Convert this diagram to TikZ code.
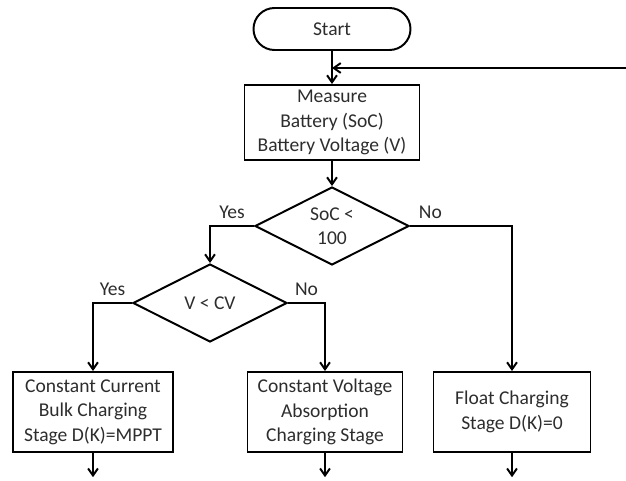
\documentclass[tikz,border=0pt]{standalone}
\usepackage{fontspec}
\setmainfont{Carlito}
\usepackage{tikz}
\usetikzlibrary{
  arrows.meta,
  shapes.geometric
}
\definecolor{flowtext}{RGB}{45,45,45}
\tikzset{
  startbox/.style={draw, rounded corners=0.525cm, line width=1.4pt,
    minimum width=3.925cm, minimum height=1.05cm,
    align=center, text=flowtext},
  procbox/.style={draw, line width=1.4pt,
    minimum width=3.9cm, minimum height=2cm,
    align=center, text=flowtext, inner sep=2pt},
  decbox/.style={draw, diamond, aspect=2, inner sep=0pt, line width=1.4pt,
    minimum width=3.85cm, minimum height=1.95cm,
    align=center, text=flowtext},
  arr/.style={-{Straight Barb[length=5pt, width=7pt]}, line width=1.4pt},
  lbl/.style={text=flowtext, inner sep=4.5pt},
}

\begin{document}
\begin{tikzpicture}[font=\fontsize{13.9}{17.4}\selectfont]
  \useasboundingbox (0,0) rectangle (15.65,12);

  % Start and measurement
  \node[startbox] (start) at (8.3, 11.275) {Start};
  \node[procbox, minimum width=4.375cm, minimum height=1.875cm]
    (measure) at (8.3, 8.9375) {Measure\\Battery (SoC)\\Battery Voltage (V)};

  % Decisions
  \node[decbox] (soc) at (8.3, 6.35) {SoC <\\100};
  \node[decbox] (vcv) at (5.25, 4.425) {V < CV};

  % Charging stages
  \node[procbox, minimum width=4cm] (bulk) at (2.325, 1.7)
    {Constant Current\\Bulk Charging\\Stage D(K)=MPPT};
  \node[procbox, minimum width=3.875cm] (absorb) at (8.125, 1.7)
    {Constant Voltage\\Absorption\\Charging Stage};
  \node[procbox, minimum width=3.925cm] (float) at (12.8, 1.7)
    {Float Charging\\Stage D(K)=0};

  % Loose ends
  \coordinate (loopin) at (15.65, 10.3);
  \coordinate (bottomline) at (0, 0.07);

  % Connectors
  \draw[arr] (start) -- (measure);
  \draw[arr] (loopin) -- (loopin -| start);
  \draw[arr] (measure) -- (soc);
  \draw[arr] (soc.west) -| node[lbl, pos=0.25, above] (yes1) {Yes} (vcv.north);
  \draw[arr] (soc.east) -| node[lbl, pos=0.1, above] (no1) {No} (float.north);
  \draw[arr] (vcv.west) -| node[lbl, pos=0.25, above] (yes2) {Yes} (bulk.north);
  \draw[arr] (vcv.east) -| node[lbl, pos=0.25, above] (no2) {No} (absorb.north);

  \draw[arr] (bulk.south) -- (bulk.south |- bottomline);
  \draw[arr] (absorb.south) -- (absorb.south |- bottomline);
  \draw[arr] (float.south) -- (float.south |- bottomline);
\end{tikzpicture}
\end{document}
